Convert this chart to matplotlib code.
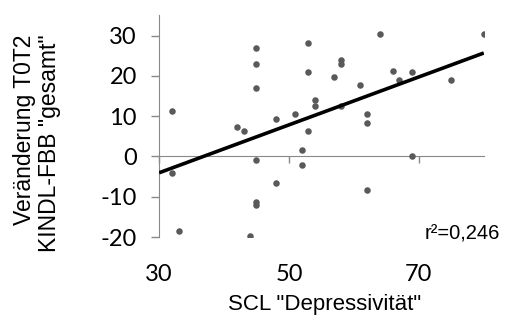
import numpy as np
import matplotlib
matplotlib.use("Agg")
import matplotlib.pyplot as plt

plt.rcParams["axes.unicode_minus"] = False

# SCL "Depressivität" vs. Veränderung T0T2 KINDL-FBB "gesamt"
scl = [32, 32, 33, 45, 45, 45, 42, 43, 45, 45, 45, 44, 48, 48, 51, 53, 53, 54, 54,
       53, 52, 52, 64, 80, 58, 58, 57, 66, 69, 67, 75, 61, 58, 62, 62, 69, 62]
kindl = [11.3, -4.2, -18.4, 26.9, 23.0, 17.1, 7.4, 6.4, -0.9, -11.4, -12.0, -19.6,
         9.4, -6.5, 10.5, 28.2, 21.0, 13.9, 12.5, 6.4, 1.6, -2.2, 30.3, 30.3, 23.9,
         22.9, 19.8, 21.3, 20.9, 18.9, 18.9, 17.8, 12.5, 10.6, 8.4, 0.0, -8.4]
xticks = [30, 50, 70]
yticks = [-20, -10, 0, 10, 20, 30]
r2_text = "r²=0,246"

x = np.array(scl)
y = np.array(kindl)
m, b = np.polyfit(x, y, 1)

fig = plt.figure(figsize=(5.05, 3.2), dpi=100)
ax = fig.add_axes([0.315, 0.259, 0.643, 0.693])

achse = "#898989"
tick_font = "Lato"

ax.scatter(x, y, s=22, color="#595959", zorder=3, linewidths=0)
xl = np.array([30, 80])
ax.plot(xl, m * xl + b, color="black", lw=2.6, zorder=4, solid_capstyle="butt")

ax.set_xlim(30, 80)
ax.set_ylim(-20, 35)

for s in ["top", "right"]:
    ax.spines[s].set_visible(False)
ax.spines["left"].set_color(achse)
ax.spines["bottom"].set_color(achse)
ax.spines["bottom"].set_position(("data", 0))

ax.set_yticks(yticks)
ax.tick_params(axis="y", length=6, width=1, color=achse, pad=10,
               labelsize=17, labelcolor="black")
for t in ax.get_yticklabels():
    t.set_fontfamily(tick_font)

ax.set_xticks(xticks)
ax.tick_params(axis="x", direction="out", length=5, width=1, color=achse,
               labelbottom=False)

sec = ax.secondary_xaxis("bottom")
sec.set_xticks(xticks)
sec.spines["bottom"].set_visible(False)
sec.tick_params(length=0, pad=19, labelsize=17, labelcolor="black")
for t in sec.get_xticklabels():
    t.set_fontfamily(tick_font)

fig.text(0.642, 0.03, 'SCL "Depressivität"', ha="center", va="baseline",
         fontsize=16, family="Liberation Sans", color="black")
fig.text(0.074, 0.552, 'Veränderung T0T2\nKINDL-FBB "gesamt"', ha="center",
         va="center", rotation=90, fontsize=16.5, family="Liberation Sans",
         color="black", linespacing=1.1, multialignment="right")
ax.text(1.05, 0.016, r2_text, transform=ax.transAxes, ha="right", va="center",
        fontsize=14.5, family="Liberation Sans", color="black")

plt.savefig("out.png", dpi=100)
